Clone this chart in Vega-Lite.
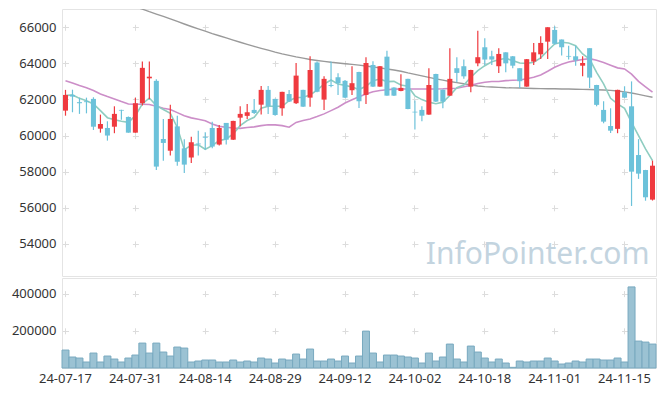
{
"$schema": "https://vega.github.io/schema/vega-lite/v6.json",
"padding": {"left": 10, "top": 8, "right": 10, "bottom": 5},
"spacing": 0,
"config": {
  "view": {"stroke": "#e4e4e4"},
  "font": "Noto Sans",
  "axis": {"labelFont": "Noto Sans", "labelFontSize": 13, "labelColor": "#333333", "domain": false, "ticks": false, "gridColor": "#dcdcdc", "gridWidth": 1, "title": null}
},
"datasets": {"k": [
{"d":"24-07-17","o":61380,"h":62530,"l":61100,"c":62250,"v":96500,"m5":62210,"m20":63040,"m120":68480},
{"d":"24-07-18","o":62250,"h":62540,"l":61290,"c":62160,"v":59000,"m5":62250,"m20":62910,"m120":68350},
{"d":"24-07-19","o":61850,"h":62100,"l":61200,"c":61790,"v":53600,"m5":62060,"m20":62770,"m120":68210},
{"d":"24-07-22","o":61900,"h":62100,"l":61230,"c":61850,"v":32200,"m5":61930,"m20":62650,"m120":68080},
{"d":"24-07-23","o":62030,"h":62120,"l":60310,"c":60490,"v":80400,"m5":61750,"m20":62490,"m120":67940},
{"d":"24-07-24","o":60380,"h":61160,"l":60160,"c":60640,"v":32200,"m5":61380,"m20":62300,"m120":67810},
{"d":"24-07-25","o":60420,"h":60790,"l":59720,"c":60000,"v":64300,"m5":60990,"m20":62160,"m120":67670},
{"d":"24-07-26","o":60490,"h":61620,"l":60130,"c":61200,"v":48200,"m5":60880,"m20":62030,"m120":67540},
{"d":"24-07-29","o":61420,"h":61430,"l":60880,"c":61380,"v":32200,"m5":60790,"m20":61880,"m120":67400},
{"d":"24-07-30","o":61030,"h":61050,"l":60160,"c":60160,"v":53600,"m5":60730,"m20":61750,"m120":67270},
{"d":"24-07-31","o":60160,"h":62100,"l":60150,"c":61790,"v":69700,"m5":61100,"m20":61730,"m120":67130},
{"d":"24-08-01","o":61790,"h":64100,"l":61660,"c":63750,"v":134000,"m5":61750,"m20":61730,"m120":67000},
{"d":"24-08-02","o":63170,"h":64100,"l":62030,"c":63260,"v":80400,"m5":62080,"m20":61720,"m120":66860},
{"d":"24-08-05","o":63030,"h":63120,"l":58090,"c":58280,"v":134000,"m5":61660,"m20":61620,"m120":66730},
{"d":"24-08-06","o":59810,"h":60920,"l":58610,"c":59590,"v":85800,"m5":61440,"m20":61510,"m120":66600},
{"d":"24-08-07","o":59160,"h":61710,"l":58890,"c":60920,"v":64300,"m5":61230,"m20":61440,"m120":66460},
{"d":"24-08-08","o":60510,"h":61100,"l":58330,"c":58550,"v":112600,"m5":60450,"m20":61270,"m120":66320},
{"d":"24-08-09","o":59290,"h":59800,"l":57930,"c":58390,"v":107200,"m5":59220,"m20":61100,"m120":66180},
{"d":"24-08-12","o":58780,"h":59940,"l":58480,"c":59630,"v":32200,"m5":59460,"m20":60980,"m120":66040},
{"d":"24-08-13","o":59560,"h":60270,"l":58890,"c":59510,"v":37500,"m5":59490,"m20":60900,"m120":65906},
{"d":"24-08-14","o":59930,"h":60180,"l":59220,"c":59880,"v":42900,"m5":59240,"m20":60820,"m120":65780},
{"d":"24-08-16","o":60420,"h":60770,"l":59300,"c":59390,"v":42900,"m5":59440,"m20":60640,"m120":65650},
{"d":"24-08-19","o":59500,"h":60590,"l":59450,"c":60420,"v":32200,"m5":59720,"m20":60510,"m120":65530},
{"d":"24-08-20","o":60700,"h":60700,"l":59500,"c":59770,"v":32200,"m5":59810,"m20":60460,"m120":65407},
{"d":"24-08-21","o":59770,"h":60820,"l":59760,"c":60810,"v":42900,"m5":60090,"m20":60420,"m120":65290},
{"d":"24-08-22","o":60990,"h":61620,"l":60510,"c":61200,"v":32200,"m5":60550,"m20":60400,"m120":65170},
{"d":"24-08-23","o":61090,"h":61750,"l":60920,"c":61290,"v":37500,"m5":60830,"m20":60450,"m120":65050},
{"d":"24-08-26","o":61420,"h":62030,"l":61200,"c":61250,"v":32200,"m5":61010,"m20":60480,"m120":64936},
{"d":"24-08-27","o":61710,"h":62750,"l":61160,"c":62530,"v":53600,"m5":61510,"m20":60550,"m120":64830},
{"d":"24-08-28","o":62530,"h":62750,"l":61200,"c":61620,"v":48200,"m5":61620,"m20":60600,"m120":64730},
{"d":"24-08-29","o":62030,"h":62040,"l":61100,"c":61140,"v":26800,"m5":61620,"m20":60590,"m120":64620},
{"d":"24-08-30","o":61510,"h":62430,"l":61100,"c":62420,"v":48200,"m5":61620,"m20":60550,"m120":64521},
{"d":"24-09-02","o":62300,"h":62530,"l":61860,"c":61880,"v":42900,"m5":61930,"m20":60460,"m120":64440},
{"d":"24-09-03","o":61790,"h":64020,"l":61750,"c":63320,"v":75000,"m5":62100,"m20":60730,"m120":64360},
{"d":"24-09-04","o":62530,"h":62540,"l":61580,"c":61600,"v":48200,"m5":62120,"m20":60830,"m120":64290},
{"d":"24-09-05","o":62100,"h":64390,"l":61600,"c":63630,"v":101900,"m5":62250,"m20":60920,"m120":64216},
{"d":"24-09-06","o":64040,"h":64100,"l":62400,"c":62420,"v":37500,"m5":62520,"m20":61050,"m120":64160},
{"d":"24-09-09","o":61990,"h":63280,"l":61420,"c":63140,"v":37500,"m5":62850,"m20":61200,"m120":64110},
{"d":"24-09-10","o":62800,"h":64100,"l":62670,"c":62750,"v":48200,"m5":63080,"m20":61380,"m120":64060},
{"d":"24-09-11","o":63230,"h":63450,"l":62250,"c":62900,"v":37500,"m5":62850,"m20":61570,"m120":64022},
{"d":"24-09-12","o":63030,"h":63080,"l":62080,"c":62100,"v":64300,"m5":62780,"m20":61800,"m120":63980},
{"d":"24-09-13","o":62510,"h":63840,"l":62250,"c":62900,"v":26800,"m5":62690,"m20":61980,"m120":63940},
{"d":"24-09-19","o":63520,"h":63530,"l":61530,"c":61900,"v":64300,"m5":62550,"m20":62150,"m120":63900},
{"d":"24-09-20","o":62250,"h":64340,"l":61750,"c":64020,"v":198400,"m5":62730,"m20":62300,"m120":63856},
{"d":"24-09-23","o":63910,"h":64110,"l":62690,"c":62710,"v":80400,"m5":63040,"m20":62430,"m120":63800},
{"d":"24-09-24","o":62710,"h":63850,"l":62700,"c":63840,"v":32200,"m5":63130,"m20":62500,"m120":63750},
{"d":"24-09-25","o":64370,"h":64700,"l":62200,"c":62210,"v":69700,"m5":62990,"m20":62540,"m120":63690},
{"d":"24-09-26","o":62660,"h":62670,"l":62190,"c":62210,"v":69700,"m5":63000,"m20":62570,"m120":63634},
{"d":"24-09-27","o":62470,"h":63390,"l":62460,"c":62640,"v":64300,"m5":62800,"m20":62580,"m120":63560},
{"d":"24-09-30","o":63140,"h":63150,"l":61450,"c":61470,"v":59000,"m5":62730,"m20":62580,"m120":63470},
{"d":"24-10-02","o":61320,"h":61940,"l":60330,"c":61280,"v":53600,"m5":62200,"m20":62580,"m120":63390},
{"d":"24-10-04","o":61420,"h":61620,"l":60790,"c":61100,"v":26800,"m5":61990,"m20":62580,"m120":63302},
{"d":"24-10-07","o":61160,"h":63730,"l":61150,"c":62800,"v":80400,"m5":61850,"m20":62580,"m120":63220},
{"d":"24-10-08","o":63410,"h":63420,"l":61860,"c":61880,"v":37500,"m5":61760,"m20":62580,"m120":63140},
{"d":"24-10-10","o":62540,"h":62550,"l":61510,"c":61880,"v":59000,"m5":61850,"m20":62590,"m120":63070},
{"d":"24-10-11","o":62210,"h":64840,"l":62200,"c":63140,"v":128700,"m5":62220,"m20":62610,"m120":62997},
{"d":"24-10-14","o":63730,"h":64340,"l":62950,"c":63470,"v":48200,"m5":62650,"m20":62620,"m120":62930},
{"d":"24-10-15","o":63840,"h":64210,"l":63140,"c":63280,"v":32200,"m5":62800,"m20":62700,"m120":62870},
{"d":"24-10-16","o":62710,"h":63640,"l":62400,"c":63630,"v":117900,"m5":63230,"m20":62780,"m120":62810},
{"d":"24-10-17","o":64000,"h":65810,"l":63840,"c":64340,"v":85800,"m5":63600,"m20":62880,"m120":62748},
{"d":"24-10-18","o":64890,"h":65390,"l":63910,"c":64210,"v":53600,"m5":63870,"m20":62950,"m120":62710},
{"d":"24-10-21","o":64390,"h":64700,"l":63910,"c":64210,"v":32200,"m5":64090,"m20":62990,"m120":62690},
{"d":"24-10-22","o":63840,"h":64840,"l":63470,"c":64520,"v":48200,"m5":64200,"m20":62990,"m120":62670},
{"d":"24-10-23","o":64610,"h":64620,"l":63510,"c":64000,"v":26800,"m5":64280,"m20":63040,"m120":62648},
{"d":"24-10-24","o":64390,"h":64400,"l":63730,"c":63870,"v":3600,"m5":64150,"m20":63060,"m120":62640},
{"d":"24-10-25","o":63730,"h":63730,"l":62640,"c":63010,"v":37500,"m5":64020,"m20":63080,"m120":62630},
{"d":"24-10-28","o":62710,"h":64240,"l":62700,"c":64230,"v":32200,"m5":64000,"m20":63150,"m120":62620},
{"d":"24-10-29","o":64100,"h":65130,"l":63910,"c":64610,"v":37500,"m5":64060,"m20":63230,"m120":62610},
{"d":"24-10-30","o":64500,"h":65500,"l":64240,"c":65130,"v":37500,"m5":64300,"m20":63360,"m120":62600},
{"d":"24-10-31","o":65200,"h":66000,"l":64240,"c":66000,"v":53600,"m5":64700,"m20":63560,"m120":62595},
{"d":"24-11-01","o":65850,"h":66050,"l":65050,"c":65080,"v":37500,"m5":65070,"m20":63780,"m120":62590},
{"d":"24-11-04","o":65320,"h":65320,"l":64430,"c":64890,"v":21400,"m5":65170,"m20":63950,"m120":62582},
{"d":"24-11-05","o":64410,"h":64980,"l":64210,"c":64370,"v":26800,"m5":65130,"m20":64070,"m120":62575},
{"d":"24-11-06","o":64390,"h":64980,"l":63870,"c":64170,"v":37500,"m5":64980,"m20":64150,"m120":62567},
{"d":"24-11-07","o":63870,"h":64390,"l":63280,"c":64020,"v":32200,"m5":64520,"m20":64210,"m120":62558},
{"d":"24-11-08","o":64840,"h":64840,"l":62640,"c":63210,"v":48200,"m5":64240,"m20":64260,"m120":62550},
{"d":"24-11-11","o":62800,"h":62810,"l":61620,"c":61700,"v":48200,"m5":63500,"m20":64170,"m120":62540},
{"d":"24-11-12","o":61420,"h":61900,"l":60680,"c":60770,"v":42900,"m5":62860,"m20":64050,"m120":62520},
{"d":"24-11-13","o":60530,"h":61510,"l":60140,"c":60270,"v":42900,"m5":62060,"m20":63900,"m120":62500},
{"d":"24-11-14","o":60370,"h":62540,"l":60130,"c":62530,"v":53600,"m5":61750,"m20":63750,"m120":62470},
{"d":"24-11-15","o":62400,"h":62730,"l":62080,"c":62100,"v":32200,"m5":61510,"m20":63690,"m120":62420},
{"d":"24-11-18","o":61620,"h":63000,"l":56100,"c":58000,"v":436000,"m5":60730,"m20":63400,"m120":62360},
{"d":"24-11-19","o":58920,"h":59800,"l":57600,"c":57890,"v":144700,"m5":60000,"m20":63000,"m120":62280},
{"d":"24-11-20","o":58090,"h":58100,"l":56390,"c":56580,"v":139400,"m5":59260,"m20":62700,"m120":62200},
{"d":"24-11-21","o":56450,"h":58610,"l":56400,"c":58330,"v":128700,"m5":58610,"m20":62400,"m120":62120}
]},
"vconcat": [
{
  "width": 594, "height": 267,
  "data": {"name": "k"},
  "encoding": {
    "x": {"field": "d", "type": "ordinal", "scale": {"type": "band", "paddingInner": 0, "paddingOuter": 0},
      "axis": {"labels": false, "grid": true, "minExtent": 0, "maxExtent": 0, "labelPadding": 0, "values": ["24-07-17","24-07-31","24-08-14","24-08-29","24-09-12","24-10-02","24-10-18","24-11-01","24-11-15"], "gridDash": [6, 30.1], "gridDashOffset": 20.8}}
  },
  "layer": [
    {"mark": {"type": "line", "clip": true, "color": "#9a9a9a", "strokeWidth": 1.4},
     "encoding": {"y": {"field": "m120", "type": "quantitative", "scale": {"domain": [52220, 67010], "nice": false, "zero": false},
       "axis": {"values": [54000,56000,58000,60000,62000,64000,66000], "format": "d", "grid": true, "gridDash": [6, 63.88], "gridDashOffset": 69.38, "labelPadding": 6}}}},
    {"mark": {"type": "line", "clip": true, "color": "#cc8ec8", "strokeWidth": 1.6},
     "encoding": {"y": {"field": "m20", "type": "quantitative"}}},
    {"mark": {"type": "line", "clip": true, "color": "#8fcdc1", "strokeWidth": 1.6},
     "encoding": {"y": {"field": "m5", "type": "quantitative"}}},
    {"mark": {"type": "rule", "strokeWidth": 1.2},
     "encoding": {"y": {"field": "l", "type": "quantitative"}, "y2": {"field": "h"},
       "color": {"condition": {"test": "datum.c >= datum.o", "value": "#ef3a3f"}, "value": "#6cc2da"}}},
    {"mark": {"type": "bar", "width": {"band": 0.72}},
     "encoding": {"y": {"field": "o", "type": "quantitative"}, "y2": {"field": "c"},
       "color": {"condition": {"test": "datum.c >= datum.o", "value": "#ef3a3f"}, "value": "#6cc2da"}}},
    {"data": {"values": [{"d": "24-11-21", "p": 53400, "t": "InfoPointer.com"}]},
     "mark": {"type": "text", "align": "right", "baseline": "middle", "dx": -3, "fontSize": 30, "font": "Noto Sans", "color": "#c3d4df"},
     "encoding": {"y": {"field": "p", "type": "quantitative"}, "text": {"field": "t"}}}
  ]
},
{
  "width": 594, "height": 90,
  "data": {"name": "k"},
  "mark": {"type": "bar", "fill": "#9bc2d3", "stroke": "#78a9bf", "strokeWidth": 1},
  "encoding": {
    "x": {"field": "d", "type": "ordinal", "scale": {"type": "band", "paddingInner": 0, "paddingOuter": 0},
      "axis": {"values": ["24-07-17","24-07-31","24-08-14","24-08-29","24-09-12","24-10-02","24-10-18","24-11-01","24-11-15"], "labelAngle": 0, "labelPadding": 4, "grid": true, "gridDash": [6, 31.2], "gridDashOffset": 24.6}},
    "y": {"field": "v", "type": "quantitative", "scale": {"domain": [0, 484000], "nice": false},
      "axis": {"values": [200000, 400000], "format": "d", "grid": true, "gridDash": [6, 63.88], "gridDashOffset": 69.38, "labelPadding": 6}}
  }
}
]
}
